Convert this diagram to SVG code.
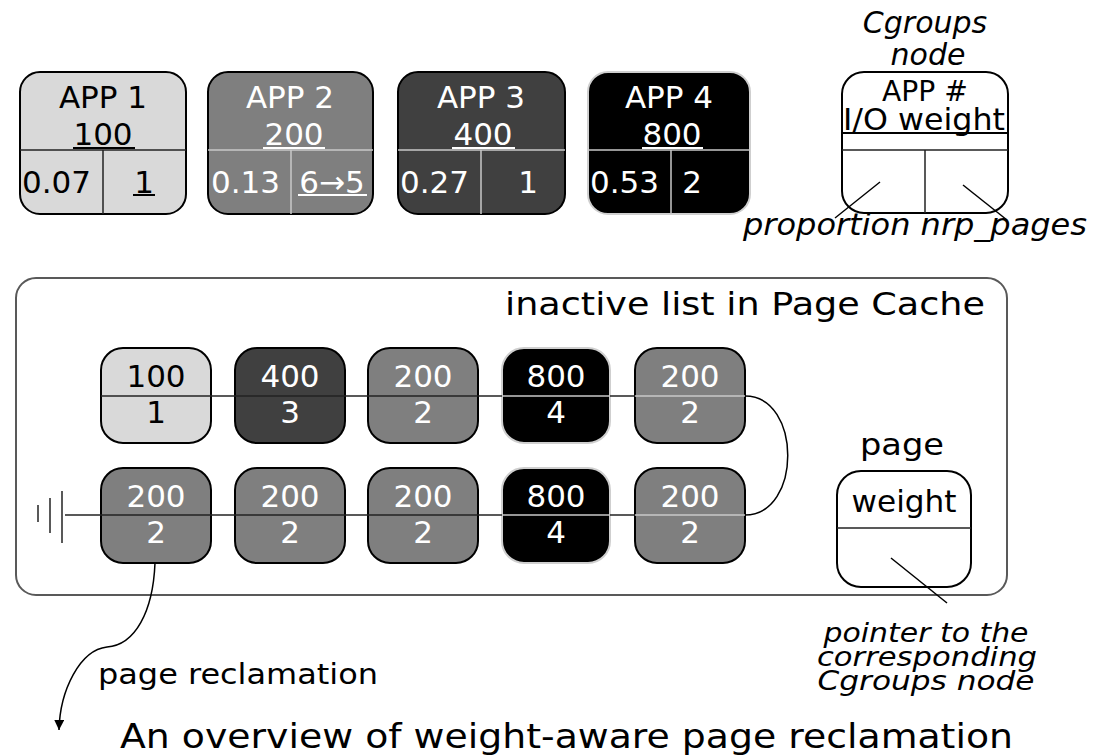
<svg xmlns="http://www.w3.org/2000/svg" width="1094" height="756" viewBox="0 0 1094 756">
<defs>
<style>
text{font-family:"DejaVu Sans","Liberation Sans",sans-serif;}
.s31{font-size:31px;}
.it{font-style:italic;}
.c{text-anchor:middle;}
.w{fill:#fff;}
.k{fill:#000;}
.box{stroke:#000;stroke-width:2;}
.lg{stroke:#c8c8c8;stroke-width:1.5;fill:none;}
.dk{stroke:#222;stroke-width:1.5;fill:none;}
.ulw{stroke:#fff;stroke-width:2;}
.ulk{stroke:#000;stroke-width:2;}
.pn{stroke:#000;stroke-width:2;}
.conn{stroke:#000;stroke-width:1.5;fill:none;}
</style>
<marker id="arr" markerUnits="userSpaceOnUse" markerWidth="10" markerHeight="10" refX="10" refY="5" orient="auto">
<path d="M0,0 L10,5 L0,10 z" fill="#000"/>
</marker>
</defs>
<rect width="1094" height="756" fill="#fff"/>

<!-- APP boxes -->
<g id="app1">
<rect x="20" y="72" width="166" height="142" rx="20" fill="#d9d9d9" class="box"/>
<line x1="20" y1="150" x2="186" y2="150" class="dk"/>
<line x1="103" y1="150" x2="103" y2="214" class="dk"/>
<text x="103" y="108" class="s31 c k">APP 1</text>
<text x="103" y="145" class="s31 c k">100</text>
<line x1="73" y1="148" x2="135" y2="148" class="ulk"/>
<text x="22" y="193" class="s31 k">0.07</text>
<text x="144" y="193" class="s31 c k">1</text>
<line x1="133" y1="195" x2="155" y2="195" class="ulk"/>
</g>
<g id="app2">
<rect x="208" y="72" width="165" height="142" rx="20" fill="#7f7f7f" class="box"/>
<line x1="208" y1="150" x2="373" y2="150" class="lg"/>
<line x1="291" y1="150" x2="291" y2="214" class="lg"/>
<text x="290" y="108" class="s31 c w">APP 2</text>
<text x="294" y="145" class="s31 c w">200</text>
<line x1="263" y1="148" x2="325" y2="148" class="ulw"/>
<text x="211" y="193" class="s31 w">0.13</text>
<text x="332" y="193" class="s31 c w">6→5</text>
<line x1="298" y1="195" x2="367" y2="195" class="ulw"/>
</g>
<g id="app3">
<rect x="398" y="72" width="167" height="142" rx="20" fill="#404040" class="box"/>
<line x1="398" y1="150" x2="565" y2="150" class="lg"/>
<line x1="481" y1="150" x2="481" y2="214" class="lg"/>
<text x="481" y="108" class="s31 c w">APP 3</text>
<text x="483" y="145" class="s31 c w">400</text>
<line x1="452" y1="148" x2="515" y2="148" class="ulw"/>
<text x="400" y="193" class="s31 w">0.27</text>
<text x="528" y="193" class="s31 c w">1</text>
</g>
<g id="app4">
<rect x="588" y="72" width="162" height="142" rx="20" fill="#000" stroke="#cfcfcf" stroke-width="2"/>
<line x1="588" y1="150" x2="750" y2="150" class="lg"/>
<line x1="671" y1="150" x2="671" y2="214" class="lg"/>
<text x="669" y="108" class="s31 c w">APP 4</text>
<text x="672" y="145" class="s31 c w">800</text>
<line x1="642" y1="148" x2="703" y2="148" class="ulw"/>
<text x="590" y="193" class="s31 w">0.53</text>
<text x="692" y="193" class="s31 c w">2</text>
</g>

<!-- Cgroups node legend -->
<g id="cgroups-node">
<text x="925" y="33" class="c it k" font-size="30">Cgroups</text>
<text x="928" y="65" class="c it k" font-size="30">node</text>
<rect x="842" y="72" width="166" height="141" rx="22" fill="#fff" class="box"/>
<line x1="842" y1="133" x2="1008" y2="133" class="pn"/>
<line x1="842" y1="150" x2="1008" y2="150" class="dk"/>
<line x1="925" y1="150" x2="925" y2="213" class="dk"/>
<text x="925" y="101" class="c k" font-size="28" textLength="86" lengthAdjust="spacingAndGlyphs">APP #</text>
<text x="924" y="130" class="s31 c k" textLength="162" lengthAdjust="spacingAndGlyphs">I/O weight</text>
<text x="915" y="235" class="c it k" font-size="30" textLength="344" lengthAdjust="spacingAndGlyphs">proportion nrp_pages</text>
</g>

<!-- container -->
<g id="inactive-list">
<rect x="16" y="278" width="991" height="317" rx="20" fill="none" stroke="#595959" stroke-width="2"/>
<text x="985" y="315" class="k" font-size="32" text-anchor="end" textLength="480" lengthAdjust="spacingAndGlyphs">inactive list in Page Cache</text>
</g>

<!-- page nodes row 1 -->
<g id="p1-1">
<rect x="101" y="348" width="110" height="95" rx="22" fill="#d9d9d9" class="box"/>
<line x1="101" y1="396" x2="211" y2="396" class="dk"/>
<text x="156" y="387" class="s31 c k">100</text>
<text x="156" y="423" class="s31 c k">1</text>
</g>
<g id="p1-2">
<rect x="235" y="348" width="110" height="95" rx="22" fill="#404040" class="box"/>
<line x1="235" y1="396" x2="345" y2="396" class="dk"/>
<text x="290" y="387" class="s31 c w">400</text>
<text x="290" y="423" class="s31 c w">3</text>
</g>
<g id="p1-3">
<rect x="368" y="348" width="110" height="95" rx="22" fill="#7f7f7f" class="box"/>
<line x1="368" y1="396" x2="478" y2="396" class="dk"/>
<text x="423" y="387" class="s31 c w">200</text>
<text x="423" y="423" class="s31 c w">2</text>
</g>
<g id="p1-4">
<rect x="502" y="348" width="108" height="95" rx="22" fill="#000" stroke="#cfcfcf" stroke-width="2"/>
<line x1="502" y1="396" x2="610" y2="396" class="lg"/>
<text x="556" y="387" class="s31 c w">800</text>
<text x="556" y="423" class="s31 c w">4</text>
</g>
<g id="p1-5">
<rect x="635" y="348" width="110" height="95" rx="22" fill="#7f7f7f" class="box"/>
<line x1="635" y1="396" x2="745" y2="396" class="lg"/>
<text x="690" y="387" class="s31 c w">200</text>
<text x="690" y="423" class="s31 c w">2</text>
</g>

<!-- page nodes row 2 -->
<g id="p2-1">
<rect x="101" y="468" width="110" height="95" rx="22" fill="#7f7f7f" class="box"/>
<line x1="101" y1="515" x2="211" y2="515" class="dk"/>
<text x="156" y="507" class="s31 c w">200</text>
<text x="156" y="543" class="s31 c w">2</text>
</g>
<g id="p2-2">
<rect x="235" y="468" width="110" height="95" rx="22" fill="#7f7f7f" class="box"/>
<line x1="235" y1="515" x2="345" y2="515" class="dk"/>
<text x="290" y="507" class="s31 c w">200</text>
<text x="290" y="543" class="s31 c w">2</text>
</g>
<g id="p2-3">
<rect x="368" y="468" width="110" height="95" rx="22" fill="#7f7f7f" class="box"/>
<line x1="368" y1="515" x2="478" y2="515" class="dk"/>
<text x="423" y="507" class="s31 c w">200</text>
<text x="423" y="543" class="s31 c w">2</text>
</g>
<g id="p2-4">
<rect x="502" y="468" width="108" height="95" rx="22" fill="#000" stroke="#cfcfcf" stroke-width="2"/>
<line x1="502" y1="515" x2="610" y2="515" class="lg"/>
<text x="556" y="507" class="s31 c w">800</text>
<text x="556" y="543" class="s31 c w">4</text>
</g>
<g id="p2-5">
<rect x="635" y="468" width="110" height="95" rx="22" fill="#7f7f7f" class="box"/>
<line x1="635" y1="515" x2="745" y2="515" class="lg"/>
<text x="690" y="507" class="s31 c w">200</text>
<text x="690" y="543" class="s31 c w">2</text>
</g>

<!-- page legend -->
<g id="page-legend">
<text x="902" y="455" class="c k" font-size="30" textLength="84" lengthAdjust="spacingAndGlyphs">page</text>
<rect x="837" y="471" width="134" height="116" rx="24" fill="#fff" class="box"/>
<line x1="837" y1="528" x2="971" y2="528" class="dk"/>
<text x="904" y="512" class="s31 c k" textLength="105" lengthAdjust="spacingAndGlyphs">weight</text>
</g>

<g id="pointer-label">
<text x="926" y="642" class="c it k" font-size="26" textLength="205" lengthAdjust="spacingAndGlyphs">pointer to the</text>
<text x="927" y="666" class="c it k" font-size="26" textLength="220" lengthAdjust="spacingAndGlyphs">corresponding</text>
<text x="926" y="690" class="c it k" font-size="26" textLength="217" lengthAdjust="spacingAndGlyphs">Cgroups node</text>
</g>

<!-- connectors -->
<g id="connectors">
<line x1="211" y1="396" x2="235" y2="396" class="dk"/>
<line x1="345" y1="396" x2="368" y2="396" class="dk"/>
<line x1="478" y1="396" x2="502" y2="396" class="dk"/>
<line x1="610" y1="396" x2="635" y2="396" class="dk"/>
<path d="M745,396 C802,396 802,515 745,515" class="conn"/>
<line x1="65" y1="515" x2="101" y2="515" class="dk"/>
<line x1="211" y1="515" x2="235" y2="515" class="dk"/>
<line x1="345" y1="515" x2="368" y2="515" class="dk"/>
<line x1="478" y1="515" x2="502" y2="515" class="dk"/>
<line x1="610" y1="515" x2="635" y2="515" class="dk"/>
<line x1="38" y1="505" x2="38" y2="522" class="dk"/>
<line x1="50" y1="498" x2="50" y2="533" class="dk"/>
<line x1="62" y1="491" x2="62" y2="543" class="dk"/>
<path d="M155,563 C153,612 135,645 107,647 C80,650 60,690 59,730" class="conn" marker-end="url(#arr)"/>
<line x1="880" y1="182" x2="835" y2="218" class="conn"/>
<line x1="963" y1="185" x2="1007" y2="220" class="conn"/>
<line x1="891" y1="558" x2="947" y2="603" class="conn"/>
</g>

<text x="98" y="684" class="k" font-size="29" textLength="280" lengthAdjust="spacingAndGlyphs">page reclamation</text>
<text x="120" y="748" class="k" font-size="34" textLength="893" lengthAdjust="spacingAndGlyphs">An overview of weight-aware page reclamation</text>
</svg>
